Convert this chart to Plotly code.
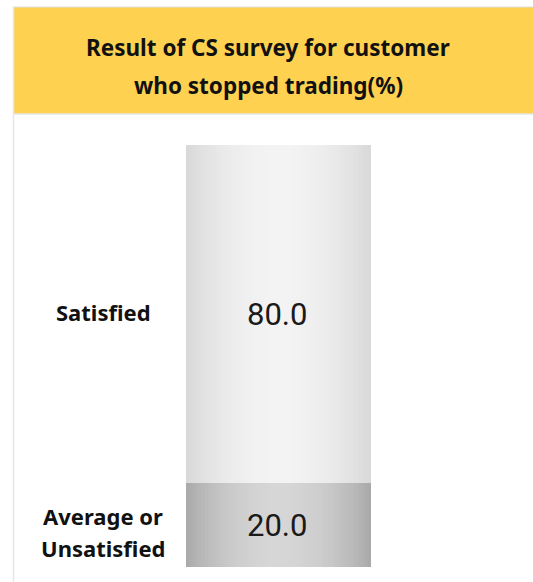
import math
import plotly.graph_objects as go

# ---- data ----
title_lines = ["Result of CS survey for customer", "who stopped trading(%)"]
categories = ["Average or<br>Unsatisfied", "Satisfied"]   # bottom -> top
values = [20.0, 80.0]

W, H = 533, 582
N_STRIPS = 60

# gradient (cylinder) styling per segment: (edge shade, center shade)
seg_shades = [(0xA7, 0xD6), (0xD7, 0xF3)]


def strip_colors(edge, center):
    cols = []
    for i in range(N_STRIPS):
        t = (i + 0.5) / N_STRIPS
        s = edge + (center - edge) * math.sin(math.pi * t) ** 0.8
        s = int(round(s))
        cols.append(f"rgb({s},{s},{s})")
    return cols


fig = go.Figure()
xs = list(range(N_STRIPS))
for cat, val, (e, c) in zip(categories, values, seg_shades):
    fig.add_trace(go.Bar(
        x=xs, y=[val] * N_STRIPS, name=cat,
        marker=dict(color=strip_colors(e, c), line=dict(width=0)),
        hoverinfo="skip", showlegend=False,
    ))

# value labels and category labels
cum = 0
for cat, val in zip(categories, values):
    mid = cum + val / 2
    cum += val
    fig.add_annotation(x=(N_STRIPS - 1) / 2, y=mid, xref="x", yref="y",
                       xanchor="center", yanchor="middle",
                       text=f"{val:.1f}", showarrow=False, yshift=-1, xshift=-2,
                       font=dict(family="Roboto", size=31, color="#1a1a1a"))
    lines = cat.split("<br>")
    n = len(lines)
    for k, ln in enumerate(lines):
        shift = 2 if n == 1 else (9 - 32 * k)
        fig.add_annotation(x=103 / W, y=mid, xref="paper", yref="y",
                           xanchor="center", yanchor="middle",
                           text=ln, showarrow=False, yshift=shift,
                           font=dict(family="Noto Sans", size=22, color="#111111", weight="bold"))

# header
def py(p):
    return 1 - p / H

def px(p):
    return p / W

fig.add_shape(type="rect", xref="paper", yref="paper",
              x0=px(13), x1=1, y0=py(114), y1=py(7),
              fillcolor="#FFD150", line=dict(width=0), layer="below")
fig.add_shape(type="line", xref="paper", yref="paper",
              x0=px(13), x1=1, y0=py(7), y1=py(7), line=dict(color="#DCDCDC", width=1))
fig.add_shape(type="line", xref="paper", yref="paper",
              x0=px(13), x1=1, y0=py(114), y1=py(114), line=dict(color="#E4E4E4", width=1.5))
fig.add_shape(type="line", xref="paper", yref="paper",
              x0=px(13.5), x1=px(13.5), y0=0, y1=py(7), line=dict(color="#E6E6E6", width=1.5))

for k, tl in enumerate(title_lines):
    fig.add_annotation(x=px(268), y=py(47 + 38.5 * k), xref="paper", yref="paper",
                       xanchor="center", yanchor="middle",
                       text=tl, showarrow=False,
                       font=dict(family="Noto Sans", size=22.5, color="#111111", weight="bold"))

fig.update_layout(
    width=W, height=H, barmode="stack", bargap=0,
    margin=dict(l=0, r=0, t=0, b=0),
    paper_bgcolor="white", plot_bgcolor="rgba(0,0,0,0)",
    xaxis=dict(domain=[186 / W, 371 / W], range=[-0.5, N_STRIPS - 0.5],
               visible=False, fixedrange=True),
    yaxis=dict(domain=[(H - 567) / H, (H - 145) / H], range=[0, 100],
               visible=False, fixedrange=True),
)

fig.write_html("out.html")
